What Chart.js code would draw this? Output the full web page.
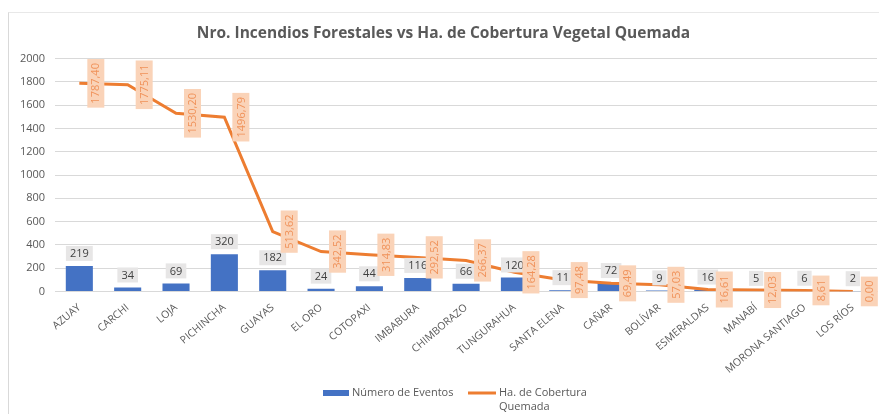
<!DOCTYPE html>
<html><head><meta charset="utf-8">
<script src="https://cdn.jsdelivr.net/npm/chart.js@4.4.0/dist/chart.umd.min.js"></script>
<style>
html,body{margin:0;padding:0;background:#fff;}
#wrap{position:relative;width:879px;height:414px;}
#wrap:before{content:"";position:absolute;left:8px;top:12px;right:0;bottom:0;border-left:1px solid #d9d9d9;border-top:1px solid #e8e8e8;}
</style></head>
<body><div id="wrap"><canvas id="c" width="879" height="414"></canvas></div>
<script>
const categories = ["AZUAY","CARCHI","LOJA","PICHINCHA","GUAYAS","EL ORO","COTOPAXI","IMBABURA","CHIMBORAZO","TUNGURAHUA","SANTA ELENA","CAÑAR","BOLÍVAR","ESMERALDAS","MANABÍ","MORONA SANTIAGO","LOS RÍOS"];
const eventos = [219,34,69,320,182,24,44,116,66,120,11,72,9,16,5,6,2];
const hectareas = [1787.40,1775.11,1530.20,1496.79,513.62,342.52,314.83,292.52,266.37,164.28,97.48,69.49,57.03,16.61,12.03,8.61,0.00];
const seriesNames = ["Número de Eventos","Ha. de Cobertura Quemada"];
const titleText = "Nro. Incendios Forestales vs Ha. de Cobertura Vegetal Quemada";

const FONT = "'Open Sans', 'Noto Sans', sans-serif";
const BLUE = "#4472C4", ORANGE = "#ED7D31";

const labelPlugin = {
  id: 'labels',
  afterDatasetsDraw(chart) {
    const ctx = chart.ctx;
    const barMeta = chart.getDatasetMeta(0);
    ctx.save();
    ctx.font = "11px " + FONT;
    ctx.textAlign = "center"; ctx.textBaseline = "middle";
    barMeta.data.forEach((el, i) => {
      const t = String(eventos[i]);
      const w = ctx.measureText(t).width + 8, h = 15;
      const cx = el.x, cy = el.y - 5 - h/2;
      ctx.fillStyle = "#E7E6E6";
      ctx.fillRect(cx - w/2, cy - h/2, w, h);
      ctx.fillStyle = "#404040";
      ctx.fillText(t, cx, cy + 0.5);
    });
    const lineMeta = chart.getDatasetMeta(1);
    lineMeta.data.forEach((el, i) => {
      const t = hectareas[i].toFixed(2).replace('.', ',');
      const w = ctx.measureText(t).width + 8, h = 17;
      const cx = el.x + 8 + h/2, cy = el.y;
      ctx.save();
      ctx.translate(cx, cy);
      ctx.rotate(-Math.PI/2);
      ctx.fillStyle = "#FAD3B8";
      ctx.fillRect(-w/2, -h/2, w, h);
      ctx.fillStyle = "#F0925A";
      ctx.fillText(t, 0, 0.5);
      ctx.restore();
    });
    ctx.restore();
  },
  afterDraw(chart) {
    const ctx = chart.ctx;
    ctx.save();
    ctx.font = "11px " + FONT;
    ctx.textBaseline = "middle"; ctx.textAlign = "left";
    ctx.fillStyle = BLUE;
    ctx.fillRect(323, 390, 26, 6);
    ctx.fillStyle = "#595959";
    ctx.fillText(seriesNames[0], 352, 393);
    ctx.strokeStyle = ORANGE; ctx.lineWidth = 3;
    ctx.beginPath(); ctx.moveTo(468, 393); ctx.lineTo(496, 393); ctx.stroke();
    const parts = seriesNames[1].split(" ");
    ctx.fillText(parts.slice(0,3).join(" "), 499, 393);
    ctx.fillText(parts.slice(3).join(" "), 499, 407);
    ctx.restore();
  }
};

new Chart(document.getElementById('c'), {
  data: {
    labels: categories,
    datasets: [
      { type: 'bar', label: seriesNames[0], data: eventos, backgroundColor: BLUE, barPercentage: 0.56, categoryPercentage: 1, order: 2 },
      { type: 'line', label: seriesNames[1], data: hectareas, borderColor: ORANGE, borderWidth: 3, pointRadius: 0, tension: 0, order: 1 }
    ]
  },
  options: {
    responsive: false, animation: false,
    layout: { padding: { left: 10, right: 2, top: 0, bottom: 36 } },
    plugins: {
      legend: { display: false },
      tooltip: { enabled: false },
      title: { display: true, text: titleText, color: "#595959", font: { family: FONT, size: 15.5, weight: 'bold' }, padding: { top: 24, bottom: 16 } }
    },
    scales: {
      x: {
        grid: { display: false },
        border: { color: "#d9d9d9" },
        ticks: { color: "#595959", font: { family: FONT, size: 10.5 }, minRotation: 40, maxRotation: 40, padding: 2 }
      },
      y: {
        min: 0, max: 2000,
        grid: { color: "#d9d9d9", drawTicks: false },
        border: { display: false },
        ticks: { stepSize: 200, color: "#595959", font: { family: FONT, size: 11 }, padding: 10, callback: v => String(v) }
      }
    }
  },
  plugins: [labelPlugin]
});
</script>
</body></html>
